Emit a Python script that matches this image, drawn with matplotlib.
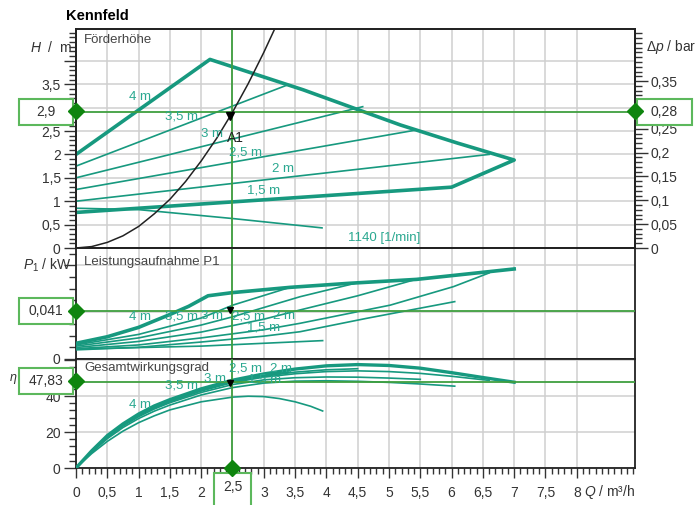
import matplotlib.pyplot as plt
from matplotlib.patches import Rectangle
from matplotlib.ticker import MultipleLocator

plt.rcParams["font.family"] = ["Liberation Sans", "DejaVu Sans"]
plt.rcParams["mathtext.fontset"] = "custom"
plt.rcParams["mathtext.rm"] = "Liberation Sans"
plt.rcParams["mathtext.it"] = "Liberation Sans:italic"

# * Betriebspunkt A1
q_a1 = 2.5
h_a1 = 2.9
dp_a1 = 0.28
p_a1 = 0.041
eta_a1 = 47.83

# * Förderhöhe H / m
h_grenze_q = [0, 2.14, 3.63, 5.18, 6.1, 7.0, 6.0, 3.0, 0]
h_grenze_h = [2.0, 4.03, 3.38, 2.63, 2.24, 1.88, 1.30, 1.03, 0.76]
h_35_q, h_35_h = [0, 3.37], [1.75, 3.48]
h_30_q, h_30_h = [0, 4.58], [1.5, 3.02]
h_25_q, h_25_h = [0, 5.43], [1.25, 2.52]
h_20_q, h_20_h = [0, 6.6], [1.0, 2.0]
h_min_q, h_min_h = [0, 1.0, 2.5, 3.93], [0.85, 0.82, 0.63, 0.43]
anl_q = [0, 0.25, 0.5, 0.75, 1.0, 1.25, 1.5, 1.75, 2.0, 2.25, 2.5, 2.75, 3.0, 3.25]
anl_h = [0, 0.03, 0.12, 0.26, 0.46, 0.73, 1.04, 1.42, 1.86, 2.35, 2.9, 3.51, 4.18, 4.9]

h_lab_text = ["4 m", "3,5 m", "3 m", "2,5 m", "2 m", "1,5 m", "1140 [1/min]"]
h_lab_q = [1.02, 1.68, 2.17, 2.70, 3.31, 3.0, 4.92]
h_lab_h = [3.23, 2.82, 2.44, 2.05, 1.69, 1.22, 0.21]

# * Leistungsaufnahme P1 / kW
p_max_q = [0, 0.5, 1.0, 1.5, 1.8, 2.11, 2.5, 3.42, 4.38, 5.44, 7.0]
p_max_p = [0.0134, 0.019, 0.027, 0.038, 0.045, 0.054, 0.0567, 0.0612, 0.0647, 0.068, 0.0769]
p_35_q = [0, 1, 2, 2.51, 3.42]
p_35_p = [0.012, 0.021, 0.035, 0.0461, 0.0612]
p_30_q = [0, 1, 2, 2.5, 3.58, 4.5]
p_30_p = [0.011, 0.018, 0.029, 0.036, 0.0532, 0.0652]
p_25_q = [0, 1, 2, 3, 3.58, 4.5, 5.43]
p_25_p = [0.0098, 0.015, 0.023, 0.034, 0.0419, 0.054, 0.068]
p_20_q = [0, 1, 2, 3, 3.58, 5.02, 6.03, 6.6]
p_20_p = [0.0088, 0.012, 0.018, 0.025, 0.0305, 0.046, 0.0618, 0.0735]
p_15_q = [0, 1, 2, 3, 3.58, 4.64, 6.05]
p_15_p = [0.0078, 0.010, 0.0145, 0.0195, 0.0233, 0.0347, 0.049]
p_min_q = [0, 2, 3.94]
p_min_p = [0.0085, 0.011, 0.0157]

p_lab_text = ["4 m", "3,5 m", "3 m", "2,5 m", "2 m", "1,5 m"]
p_lab_q = [1.02, 1.68, 2.17, 2.75, 3.32, 2.99]
p_lab_p = [0.0359, 0.0367, 0.0367, 0.0359, 0.0367, 0.0273]

# * Gesamtwirkungsgrad eta / %
eta_max_q = [0, 0.25, 0.5, 0.75, 1, 1.25, 1.5, 2, 2.5, 3, 3.5, 4, 4.5, 5, 5.5, 6, 6.5, 7]
eta_max_e = [0, 9.5, 18, 24.5, 30, 34.5, 38, 44, 48.8, 52.3, 55, 56.8, 57.5, 57, 55.5, 53, 50.3, 47.7]
eta_35_q = [0, 0.25, 0.5, 0.75, 1, 1.25, 1.5, 2, 2.5, 3, 3.4]
eta_35_e = [0, 9.3, 17.7, 24.2, 29.6, 34, 37.6, 43.5, 48.2, 51.5, 53.3]
eta_30_q = [0, 0.25, 0.5, 0.75, 1, 1.25, 1.5, 2, 2.5, 3, 3.5, 4, 4.5]
eta_30_e = [0, 9.2, 17.5, 24, 29.3, 33.7, 37.3, 43.2, 47.9, 51, 53.3, 54.6, 55.2]
eta_25_q = [0, 0.25, 0.5, 0.75, 1, 1.25, 1.5, 2, 2.5, 3, 3.5, 4, 4.5, 5, 5.5, 6, 6.6]
eta_25_e = [0, 9.1, 17.3, 23.7, 29, 33.3, 36.9, 42.8, 47.5, 50.5, 52.4, 53.6, 54, 53.6, 52.6, 51, 48.7]
eta_20_q = [0, 0.25, 0.5, 0.75, 1, 1.25, 1.5, 2, 2.5, 3, 3.5, 4, 4.5, 5, 5.5]
eta_20_e = [0, 8.9, 17, 23.3, 28.5, 32.8, 36.3, 42, 46.4, 49, 50.2, 50.6, 50.5, 50, 49.3]
eta_15_q = [0, 0.25, 0.5, 0.75, 1, 1.25, 1.5, 2, 2.5, 3, 3.5, 4, 4.5, 5, 5.5, 6.05]
eta_15_e = [0, 8.6, 16.3, 22.5, 27.5, 31.6, 35, 40.6, 44.7, 47.2, 48.3, 48.5, 48.2, 47.6, 46.7, 45.5]
eta_min_q = [0, 0.25, 0.5, 0.75, 1, 1.25, 1.5, 2, 2.5, 2.75, 3, 3.25, 3.5, 3.75, 3.94]
eta_min_e = [0, 8, 14.8, 20.5, 25.2, 29, 32.3, 36.8, 39.4, 39.9, 39.7, 38.6, 36.8, 34.3, 31.7]

eta_lab_text = ["4 m", "3,5 m", "3 m", "2,5 m", "2 m", "1,5 m"]
eta_lab_q = [1.02, 1.68, 2.22, 2.70, 3.27, 3.02]
eta_lab_e = [34.9, 45.6, 49.3, 55.2, 55.2, 49.0]

# * Achsen (verdeckte Beschriftungen leer)
x_ticks = [i * 0.5 for i in range(17)]
x_labels = ["0", "0,5", "1", "1,5", "2", "", "3", "3,5", "4", "4,5", "5",
            "5,5", "6", "6,5", "7", "7,5", "8"]
h_ticks = [0, 0.5, 1, 1.5, 2, 2.5, 3, 3.5, 4]
h_labels = ["0", "0,5", "1", "1,5", "2", "2,5", "", "3,5", ""]
dp_ticks = [0, 0.05, 0.1, 0.15, 0.2, 0.25, 0.3, 0.35]
dp_labels = ["0", "0,05", "0,1", "0,15", "0,2", "0,25", "", "0,35"]
p_ticks = [0, 0.04, 0.08]
p_labels = ["0", "", ""]
eta_ticks = [0, 20, 40, 60]
eta_labels = ["0", "20", "40", ""]

teal = "#17997f"
teal_txt = "#2aa890"
gruen = "#3f9f3f"
gruen_box = "#5cb85c"
gruen_dunkel = "#0e850e"
grau = "#cfcfcf"
txt = "#333333"

W, H = 697, 505


def fx(px):
    return px / W


def fy(py):
    return 1 - py / H


fig = plt.figure(figsize=(W / 100, H / 100), dpi=100)
links, breite = fx(76), fx(635) - fx(76)
ax_h = fig.add_axes([links, fy(248), breite, (248 - 29) / H])
ax_p = fig.add_axes([links, fy(359), breite, (359 - 248) / H])
ax_e = fig.add_axes([links, fy(468), breite, (468 - 359) / H])

for ax in (ax_h, ax_p, ax_e):
    ax.set_xlim(0, 8.93)
    ax.set_xticks(x_ticks)
    ax.xaxis.set_minor_locator(MultipleLocator(0.1))
    ax.grid(True, which="major", color=grau, lw=1.1, zorder=0)
    ax.set_axisbelow(True)
    for s in ax.spines.values():
        s.set_color("#222222")
        s.set_linewidth(1.3)
    ax.tick_params(axis="y", which="major", length=9, width=1, color=txt,
                   labelcolor=txt, labelsize=10, pad=2)
    ax.tick_params(axis="y", which="minor", length=5, width=1, color=txt)
    ax.axvline(q_a1, color=gruen, lw=1.3, zorder=4)

for ax in (ax_h, ax_p):
    ax.tick_params(axis="x", which="both", length=0, labelbottom=False)

ax_e.set_xticklabels(x_labels)
ax_e.tick_params(axis="x", which="major", length=7, width=1, color=txt,
                 labelcolor=txt, labelsize=10, pad=6)
ax_e.tick_params(axis="x", which="minor", length=4, width=1, color=txt)

# * Förderhöhe
ax_h.set_ylim(0, 4.68)
ax_h.set_yticks(h_ticks)
ax_h.set_yticklabels(h_labels)
ax_h.yaxis.set_minor_locator(MultipleLocator(0.1))
ax_h.plot(h_grenze_q, h_grenze_h, color=teal, lw=2.6, zorder=3)
for q, h in [(h_35_q, h_35_h), (h_30_q, h_30_h), (h_25_q, h_25_h),
             (h_20_q, h_20_h), (h_min_q, h_min_h)]:
    ax_h.plot(q, h, color=teal, lw=1.2, zorder=3)
ax_h.plot(anl_q, anl_h, color="#222222", lw=1.1, zorder=5)
ax_h.axhline(h_a1, color=gruen, lw=1.3, zorder=4)
ax_h.plot(q_a1 - 0.04, h_a1 - 0.08, marker="v", color="black", ms=6, zorder=6)
ax_h.text(q_a1 + 0.04, h_a1 - 0.55, "A1", color="#222222", fontsize=10,
          ha="center", va="center", zorder=6)
for t, q, h in zip(h_lab_text, h_lab_q, h_lab_h):
    ax_h.text(q, h, t, color=teal_txt, fontsize=9.5, ha="center", va="center", zorder=6)

ax_r = ax_h.twinx()
ax_r.set_ylim(0, 4.68 * 0.0981)
ax_r.set_yticks(dp_ticks)
ax_r.set_yticklabels(dp_labels)
ax_r.yaxis.set_minor_locator(MultipleLocator(0.01))
ax_r.tick_params(axis="y", which="major", length=9, width=1, color=txt,
                 labelcolor=txt, labelsize=10, pad=2)
ax_r.tick_params(axis="y", which="minor", length=5, width=1, color=txt)
for s in ax_r.spines.values():
    s.set_color("#222222")
    s.set_linewidth(1.3)

# * Leistungsaufnahme
ax_p.set_ylim(0, 0.0948)
ax_p.set_yticks(p_ticks)
ax_p.set_yticklabels(p_labels)
ax_p.yaxis.set_minor_locator(MultipleLocator(0.01))
ax_p.plot(p_max_q, p_max_p, color=teal, lw=2.6, zorder=3)
for q, p in [(p_35_q, p_35_p), (p_30_q, p_30_p), (p_25_q, p_25_p),
             (p_20_q, p_20_p), (p_15_q, p_15_p), (p_min_q, p_min_p)]:
    ax_p.plot(q, p, color=teal, lw=1.2, zorder=3)
ax_p.axhline(p_a1, color=gruen, lw=1.3, zorder=4)
ax_p.plot(q_a1 - 0.04, p_a1 + 0.0005, marker="v", color="black", ms=5, zorder=6)
for t, q, p in zip(p_lab_text, p_lab_q, p_lab_p):
    ax_p.text(q, p, t, color=teal_txt, fontsize=9.5, ha="center", va="center", zorder=6)

# * Gesamtwirkungsgrad
ax_e.set_ylim(0, 60.6)
ax_e.set_yticks(eta_ticks)
ax_e.set_yticklabels(eta_labels)
ax_e.yaxis.set_minor_locator(MultipleLocator(4))
ax_e.plot(eta_max_q, eta_max_e, color=teal, lw=2.4, zorder=3)
for q, e in [(eta_35_q, eta_35_e), (eta_30_q, eta_30_e), (eta_25_q, eta_25_e),
             (eta_20_q, eta_20_e), (eta_15_q, eta_15_e), (eta_min_q, eta_min_e)]:
    ax_e.plot(q, e, color=teal, lw=1.2, zorder=3)
ax_e.axhline(eta_a1, color=gruen, lw=1.3, zorder=4)
ax_e.plot(q_a1 - 0.04, eta_a1 - 0.5, marker="v", color="black", ms=5, zorder=6)
for t, q, e in zip(eta_lab_text, eta_lab_q, eta_lab_e):
    ax_e.text(q, e, t, color=teal_txt, fontsize=9.5, ha="center", va="center", zorder=6)

# * Texte
fig.text(fx(66), fy(16), "Kennfeld", fontsize=10.5, fontweight="bold", va="center")
fig.text(fx(84), fy(40), "Förderhöhe", fontsize=9.5, color="#444444", va="center")
fig.text(fx(84), fy(262), "Leistungsaufnahme P1", fontsize=9.5, color="#444444", va="center")
fig.text(fx(84), fy(368), "Gesamtwirkungsgrad", fontsize=9.5, color="#444444", va="center")
fig.text(fx(72), fy(47), "$H$  /  m", fontsize=10, color=txt, ha="right", va="center")
fig.text(fx(72), fy(265), "$P_1$ / kW", fontsize=10, color=txt, ha="right", va="center")
fig.text(fx(646), fy(47), "$\\Delta p$ / bar", fontsize=10, color=txt, ha="left", va="center")
fig.text(fx(13), fy(379), "$\\eta$", fontsize=9, color=txt, ha="center", va="center")
fig.text(fx(635), fy(492), "$Q$ / m³/h", fontsize=10, color=txt, ha="right", va="center")

# * Wertekästen
kaesten = [(19, 99, 54, 26, "2,9"), (637, 99, 55, 26, "0,28"),
           (19, 298, 54, 26, "0,041"), (19, 368, 54, 26, "47,83"),
           (214, 473, 37, 40, "2,5")]
for x0, y0, bw, bh, t in kaesten:
    fig.patches.append(Rectangle((fx(x0), fy(y0 + bh)), bw / W, bh / H,
                                 transform=fig.transFigure, facecolor="white",
                                 edgecolor=gruen_box, lw=1.5, zorder=5))
    ty = y0 + 13 if bh < 30 else y0 + 14
    fig.text(fx(x0 + bw / 2), fy(ty), t, fontsize=10, color=txt,
             ha="center", va="center", zorder=6)

for px, py in [(76, 111), (635, 111), (76, 311), (76, 381), (232, 468)]:
    fig.add_artist(plt.Line2D([fx(px)], [fy(py)], marker="D", ms=8,
                              color=gruen_dunkel, transform=fig.transFigure, zorder=7))

fig.savefig("out.png", dpi=100)
